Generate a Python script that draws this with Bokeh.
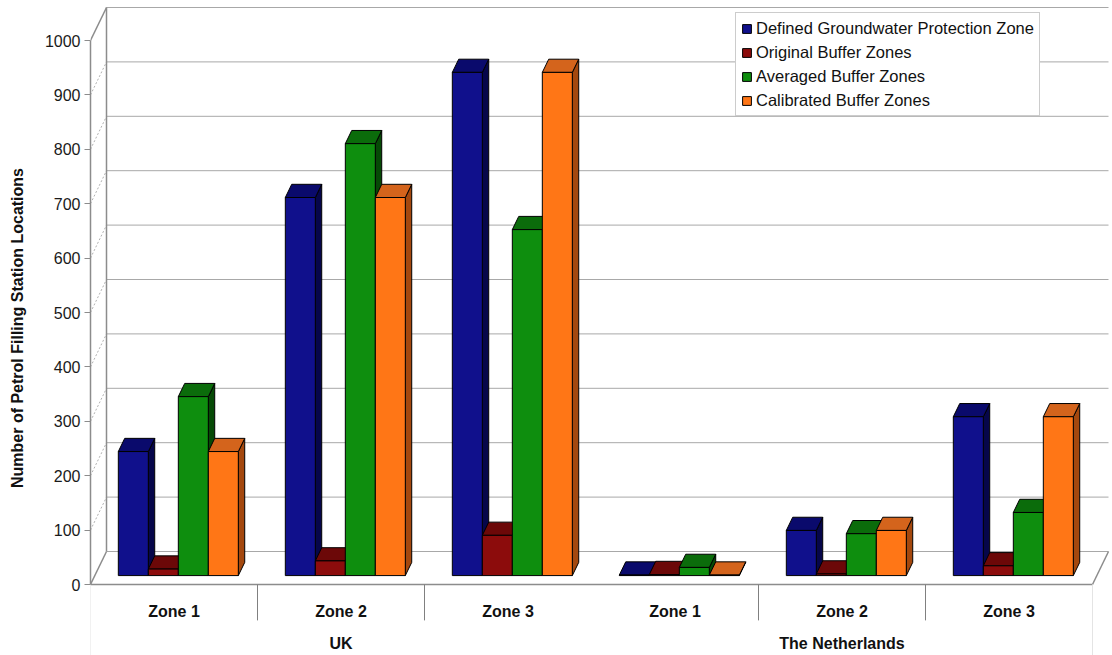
from bokeh.plotting import figure
from bokeh.models import Range1d, FixedTicker, Legend, LegendItem, ColumnDataSource
from bokeh.core.properties import value
from bokeh.embed import file_html
from bokeh.resources import INLINE

# ---- data -------------------------------------------------------------
zones = ["Zone 1", "Zone 2", "Zone 3", "Zone 1", "Zone 2", "Zone 3"]
countries = ["UK", "The Netherlands"]
zones_per_country = 3

series_names = [
    "Defined Groundwater Protection Zone",
    "Original Buffer Zones",
    "Averaged Buffer Zones",
    "Calibrated Buffer Zones",
]
defined_zone = [228, 695, 925, 1, 83, 292]
original_buffer = [12, 27, 74, 2, 3, 18]
averaged_buffer = [329, 794, 636, 15, 77, 116]
calibrated_buffer = [228, 695, 925, 1, 83, 292]

y_ticks = [0, 100, 200, 300, 400, 500, 600, 700, 800, 900, 1000]

# ---- styling / pseudo-3D geometry ----------------------------------------
FONT = "Liberation Sans"
PX_PER_ZONE = 167.0           # horizontal pixels per category slot
PX_PER_UNIT = 0.544           # vertical pixels per count
WALL_DX = 16 / PX_PER_ZONE    # depth offset of the back wall (x units)
WALL_DY = 33 / PX_PER_UNIT    # depth offset of the back wall (y units)
D_FRONT, D_BACK = 0.27, 0.67  # bar depth inside the box (fraction of wall depth)
BAR_W = 30 / PX_PER_ZONE

faces = [  # front, top, side
    ("#10108c", "#0a0a6c", "#06064a"),
    ("#8c0c0c", "#6c0808", "#4a0505"),
    ("#0e8e0e", "#0b6c0b", "#064a06"),
    ("#ff7616", "#d4641c", "#a4480e"),
]
values = [defined_zone, original_buffer, averaged_buffer, calibrated_buffer]

n_cat = len(zones)
x_end = 1022 / PX_PER_ZONE
y_start, y_end = -71 / PX_PER_UNIT, 584 / PX_PER_UNIT

p = figure(
    width=1112, height=655, output_backend="svg", toolbar_location=None,
    x_range=Range1d(0, x_end), y_range=Range1d(y_start, y_end),
    x_axis_location=None, min_border_left=90, min_border_right=0,
    min_border_top=0, min_border_bottom=0,
)
p.outline_line_color = None
p.grid.visible = False
p.background_fill_color = "white"

# ---- box: back wall, left wall, floor --------------------------------------
top = y_ticks[-1]
p.multi_line(
    xs=[[WALL_DX, n_cat + WALL_DX] for _ in y_ticks],
    ys=[[t + WALL_DY, t + WALL_DY] for t in y_ticks],
    line_color="#a8a8a8", line_width=1,
)
inner = y_ticks[1:-1]
p.segment(x0=[0] * len(inner), y0=inner, x1=[WALL_DX] * len(inner),
          y1=[t + WALL_DY for t in inner], line_color="#b0b0b0",
          line_width=1, line_dash="2 2")
p.segment(x0=[0, 0, WALL_DX, 0, n_cat],
          y0=[0, top, WALL_DY, 0, 0],
          x1=[WALL_DX, WALL_DX, WALL_DX, n_cat, n_cat + WALL_DX],
          y1=[WALL_DY, top + WALL_DY, top + WALL_DY, 0, WALL_DY],
          line_color="#8c8c8c", line_width=1.5)

# ---- category table under the floor ---------------------------------------
sep = [i for i in range(1, n_cat) if i % zones_per_country != 0]
p.segment(x0=sep, y0=[0] * len(sep), x1=sep, y1=[-66] * len(sep),
          line_color="#808080", line_width=1)
p.segment(x0=[0, n_cat], y0=[0, 0], x1=[0, n_cat], y1=[y_start, y_start],
          line_color="#e4e4e4", line_width=1)
p.text(x=[i + 0.5 for i in range(n_cat)], y=[-49.6] * n_cat, text=zones,
       text_font=value(FONT), text_font_style="bold", text_font_size="16px",
       text_align="center", text_baseline="middle", text_color="#111111")
p.text(x=[zones_per_country * (j + 0.5) for j in range(len(countries))],
       y=[-108.5] * len(countries), text=countries,
       text_font=value(FONT), text_font_style="bold", text_font_size="16px",
       text_align="center", text_baseline="middle", text_color="#111111")

# ---- bars: sides, then tops, then fronts ----------------------------------
fdx, fdy = D_FRONT * WALL_DX, D_FRONT * WALL_DY
bdx, bdy = D_BACK * WALL_DX, D_BACK * WALL_DY

geo = []
for k, vals in enumerate(values):
    lefts = [i + 0.5 - 2 * BAR_W + k * BAR_W for i in range(n_cat)]
    rights = [l + BAR_W for l in lefts]
    geo.append((lefts, rights, vals))

for k, (lefts, rights, vals) in enumerate(geo):
    p.patches(
        xs=[[r + fdx, r + bdx, r + bdx, r + fdx] for r in rights],
        ys=[[fdy, bdy, v + bdy, v + fdy] for v in vals],
        fill_color=faces[k][2], line_color="black", line_width=1,
    )
for k, (lefts, rights, vals) in enumerate(geo):
    p.patches(
        xs=[[l + fdx, r + fdx, r + bdx, l + bdx] for l, r in zip(lefts, rights)],
        ys=[[v + fdy, v + fdy, v + bdy, v + bdy] for v in vals],
        fill_color=faces[k][1], line_color="black", line_width=1,
    )
front_renderers = []
for k, (lefts, rights, vals) in enumerate(geo):
    src = ColumnDataSource(dict(
        left=[l + fdx for l in lefts], right=[r + fdx for r in rights],
        bottom=[fdy] * n_cat, top=[v + fdy for v in vals],
    ))
    r = p.quad(left="left", right="right", bottom="bottom", top="top",
               source=src, fill_color=faces[k][0], line_color="black",
               line_width=1)
    front_renderers.append(r)

# ---- value axis ------------------------------------------------------------
ax = p.yaxis[0]
ax.ticker = FixedTicker(ticks=y_ticks)
ax.bounds = (0, top)
ax.axis_line_color = "#8c8c8c"
ax.axis_line_width = 1.5
ax.major_tick_line_color = "#8c8c8c"
ax.major_tick_out = 6
ax.major_tick_in = 0
ax.minor_tick_line_color = None
ax.major_label_standoff = 4
ax.major_label_text_font = FONT
ax.major_label_text_font_size = "16px"
ax.major_label_text_color = "#1a1a1a"
ax.axis_label = "Number of Petrol Filling Station Locations"
ax.axis_label_text_font = FONT
ax.axis_label_text_font_size = "16px"
ax.axis_label_text_font_style = "bold"
ax.axis_label_text_color = "#111111"
ax.axis_label_standoff = 16

# ---- legend ----------------------------------------------------------------
legend = Legend(
    items=[LegendItem(label=n, renderers=[r]) for n, r in zip(series_names, front_renderers)],
    location=(645, 539), orientation="vertical",
    border_line_color="#9a9a9a", border_line_width=1,
    background_fill_color="white", background_fill_alpha=1,
    label_text_font=FONT, label_text_font_size="16.5px", label_text_color="#111111",
    glyph_width=11, glyph_height=11, label_standoff=4, label_height=20,
    spacing=4, padding=5, margin=0,
)
p.add_layout(legend)

open("out.html", "w").write(file_html(p, INLINE))
